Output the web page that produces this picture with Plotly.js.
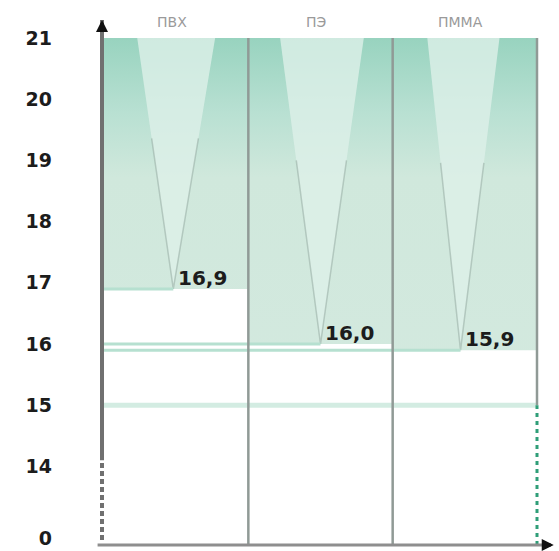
<!DOCTYPE html>
<html>
<head>
<meta charset="utf-8">
<script src="https://cdn.plot.ly/plotly-3.0.1.min.js"></script>
<style>html,body{margin:0;padding:0;background:#fff;}#chart{width:559px;height:551px;}</style>
</head>
<body>
<div id="chart"></div>
<script>
// ---- data ----
const categories = ['ПВХ', 'ПЭ', 'ПММА'];
const values = [16.9, 16.0, 15.9];
const valueLabels = ['16,9', '16,0', '15,9'];
const topValue = 21;
const threshold = 15;
const tickValues = [12.83, 14, 15, 16, 17, 18, 19, 20, 21];
const tickLabels = ['0', '14', '15', '16', '17', '18', '19', '20', '21'];

// ---- style / layout constants ----
const yRange = [12.716, 21.294];
const xRange = [-0.014, 3.0485];
const vLeft = [0.23, 0.22, 0.24];
const vRight = [0.77, 0.80, 0.74];
const vTip = [0.48, 0.50, 0.47];
const axisBreak = 14.1;

const traces = [];
const n = categories.length;

// gradient fills per column
categories.forEach((c, i) => {
  const v = values[i];
  traces.push({
    x: [i, i + 1, i + 1, i, i],
    y: [topValue, topValue, v, v, topValue],
    mode: 'lines', fill: 'toself', line: {width: 0},
    fillcolor: '#d0e8dc',
    fillgradient: {type: 'vertical', start: threshold, stop: topValue,
      colorscale: [[0, '#d3e9df'], [0.62, '#d0e8dc'], [0.8, '#b8e0d2'], [1, '#98d3bf']]},
    hoverinfo: 'skip', showlegend: false
  });
});
// V triangles
categories.forEach((c, i) => {
  const v = values[i];
  traces.push({
    x: [i + vLeft[i], i + vRight[i], i + vTip[i], i + vLeft[i]],
    y: [topValue, topValue, v, topValue],
    mode: 'lines', fill: 'toself', line: {width: 0},
    fillcolor: 'rgba(221,240,232,0.8)',
    hoverinfo: 'skip', showlegend: false
  });
  const f = 0.4;
  traces.push({
    x: [i + vLeft[i] + (vTip[i] - vLeft[i]) * f, i + vTip[i], i + vRight[i] - (vRight[i] - vTip[i]) * f],
    y: [topValue + (v - topValue) * f, v, topValue + (v - topValue) * f],
    mode: 'lines', line: {color: 'rgba(150,172,163,0.55)', width: 1.5},
    hoverinfo: 'skip', showlegend: false
  });
});
// guide lines from axis to each tip
categories.forEach((c, i) => {
  traces.push({
    x: [0, i + vTip[i]], y: [values[i], values[i]],
    mode: 'lines', line: {color: '#b6e0d0', width: 3},
    hoverinfo: 'skip', showlegend: false
  });
});
// threshold line
traces.push({
  x: [0, n], y: [threshold, threshold],
  mode: 'lines', line: {color: '#d3ece2', width: 5},
  hoverinfo: 'skip', showlegend: false
});
// dividers
for (let i = 1; i < n; i++) {
  traces.push({
    x: [i, i], y: [yRange[0], topValue],
    mode: 'lines', line: {color: '#909a96', width: 2.5},
    hoverinfo: 'skip', showlegend: false
  });
}
traces.push({
  x: [n, n], y: [threshold, topValue],
  mode: 'lines', line: {color: '#909a96', width: 2.5},
  hoverinfo: 'skip', showlegend: false
});
traces.push({
  x: [n, n], y: [yRange[0], threshold],
  mode: 'lines', line: {color: '#2f9e78', width: 3, dash: '4px,4px'},
  hoverinfo: 'skip', showlegend: false
});

const annotations = categories.map((c, i) => ({
  x: i + 0.47, y: 1, xref: 'x', yref: 'paper', yshift: -2,
  text: c, showarrow: false, xanchor: 'center', yanchor: 'middle',
  font: {family: 'DejaVu Sans', size: 14, color: '#9a9a9a'}
}));
values.forEach((v, i) => {
  annotations.push({
    x: i + vTip[i] + 0.02, y: v, xref: 'x', yref: 'y', yshift: 11,
    text: valueLabels[i], showarrow: false, xanchor: 'left', yanchor: 'middle',
    font: {family: 'DejaVu Sans', size: 20, color: '#1c1c1c', weight: 'bold'}
  });
});
// top arrow on y axis
annotations.push({x: 0, y: 1, xref: 'paper', yref: 'paper', ax: 0, ay: 6, text: '',
  showarrow: true, arrowhead: 2, arrowsize: 0.8, arrowwidth: 3, arrowcolor: '#111'});
// right end mark on x axis
annotations.push({x: 1.022, y: 0, xref: 'paper', yref: 'paper', ax: -6, ay: 0, text: '',
  showarrow: true, arrowhead: 2, arrowsize: 0.8, arrowwidth: 3, arrowcolor: '#111'});

const shapes = [
  {type: 'line', xref: 'paper', yref: 'y', x0: 0, x1: 0, y0: axisBreak, y1: yRange[1],
   line: {color: '#707070', width: 4}},
  {type: 'line', xref: 'paper', yref: 'y', x0: 0, x1: 0, y0: yRange[0] + 0.08, y1: axisBreak,
   line: {color: '#707070', width: 4, dash: '5px,3px'}},
  {type: 'line', xref: 'paper', yref: 'paper', x0: -0.01, x1: 1.015, y0: 0, y1: 0,
   line: {color: '#8e8e8e', width: 3}}
];

const layout = {
  width: 559, height: 551,
  margin: {l: 102, r: 15, t: 20, b: 6},
  paper_bgcolor: '#fff', plot_bgcolor: '#fff',
  showlegend: false,
  xaxis: {range: xRange, showgrid: false, zeroline: false, showline: false, showticklabels: false, ticks: ''},
  yaxis: {range: yRange, showgrid: false, zeroline: false, showline: false,
    tickmode: 'array', tickvals: tickValues, ticktext: tickLabels, ticks: '',
    ticklabelstandoff: 49,
    tickfont: {family: 'DejaVu Sans', size: 19, color: '#1c1c1c', weight: 'bold'}},
  annotations: annotations,
  shapes: shapes
};

Plotly.newPlot('chart', traces, layout, {staticPlot: true, displayModeBar: false});
</script>
</body>
</html>
